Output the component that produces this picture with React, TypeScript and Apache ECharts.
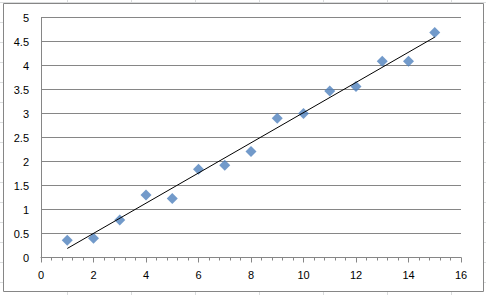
import React, { useEffect, useRef } from "react";
import * as echarts from "echarts";

const xValues = [1, 2, 3, 4, 5, 6, 7, 8, 9, 10, 11, 12, 13, 14, 15];
const yValues = [0.36, 0.4, 0.78, 1.3, 1.23, 1.84, 1.92, 2.21, 2.9, 3.0, 3.47, 3.56, 4.09, 4.09, 4.69];

const sheetColumnLines = [67, 131, 195, 259, 323, 387, 451];
const sheetRowLines = [2, 22, 42, 62, 82, 102, 122, 142, 162, 182, 202, 222, 242, 262, 282];

function linearFit(xs: number[], ys: number[]) {
  const n = xs.length;
  const mx = xs.reduce((a, b) => a + b, 0) / n;
  const my = ys.reduce((a, b) => a + b, 0) / n;
  let sxy = 0;
  let sxx = 0;
  for (let i = 0; i < n; i++) {
    sxy += (xs[i] - mx) * (ys[i] - my);
    sxx += (xs[i] - mx) * (xs[i] - mx);
  }
  const slope = sxy / sxx;
  return { slope, intercept: my - slope * mx };
}

export default function App() {
  const ref = useRef<HTMLDivElement>(null);

  useEffect(() => {
    document.body.style.margin = "0";
    if (!ref.current) return;
    const chart = echarts.init(ref.current, null, { renderer: "svg" });
    const fit = linearFit(xValues, yValues);
    const xMin = Math.min(...xValues);
    const xMax = Math.max(...xValues);
    const trend = [
      [xMin, fit.intercept + fit.slope * xMin],
      [xMax, fit.intercept + fit.slope * xMax],
    ];

    const sheetLines: any[] = [];
    sheetColumnLines.forEach((x) => {
      sheetLines.push({
        type: "line",
        z: -20,
        shape: { x1: x + 0.5, y1: 0, x2: x + 0.5, y2: 295 },
        style: { stroke: "#dadcdd", lineWidth: 1 },
        silent: true,
      });
    });
    sheetRowLines.forEach((y) => {
      sheetLines.push({
        type: "line",
        z: -20,
        shape: { x1: 0, y1: y + 0.5, x2: 486, y2: y + 0.5 },
        style: { stroke: "#dadcdd", lineWidth: 1 },
        silent: true,
      });
    });

    chart.setOption({
      animation: false,
      backgroundColor: "#ffffff",
      graphic: [
        ...sheetLines,
        {
          type: "rect",
          z: -10,
          shape: { x: 3.5, y: 3.5, width: 480, height: 288 },
          style: { fill: "#ffffff", stroke: "#868686", lineWidth: 1 },
          silent: true,
        },
      ],
      grid: { left: 41, right: 25, top: 17.5, bottom: 37.5, containLabel: false },
      xAxis: {
        type: "value",
        min: 0,
        max: 16,
        interval: 2,
        axisLine: { show: true, lineStyle: { color: "#868686", width: 1 } },
        axisTick: { show: true, length: 5, inside: false, lineStyle: { color: "#868686" } },
        minorTick: { show: true, splitNumber: 5, length: 3, lineStyle: { color: "#868686" } },
        splitLine: { show: false },
        axisLabel: {
          color: "#000000",
          fontFamily: "Liberation Sans",
          fontSize: 11,
          margin: 12,
        },
      },
      yAxis: {
        type: "value",
        min: 0,
        max: 5,
        interval: 0.5,
        axisLine: { show: true, lineStyle: { color: "#868686", width: 1 } },
        axisTick: { show: false },
        splitLine: { show: true, lineStyle: { color: "#868686", width: 1 } },
        axisLabel: {
          color: "#000000",
          fontFamily: "Liberation Sans",
          fontSize: 11,
          margin: 12,
        },
      },
      series: [
        {
          type: "scatter",
          symbol: "diamond",
          symbolSize: 11,
          itemStyle: { color: "#4F81BD" },
          data: xValues.map((x, i) => [x, yValues[i]]),
          z: 3,
        },
        {
          type: "line",
          data: trend,
          symbol: "none",
          lineStyle: { color: "#000000", width: 1 },
          z: 4,
        },
      ],
    });
    return () => chart.dispose();
  }, []);

  return <div ref={ref} style={{ width: 486, height: 295 }} />;
}
